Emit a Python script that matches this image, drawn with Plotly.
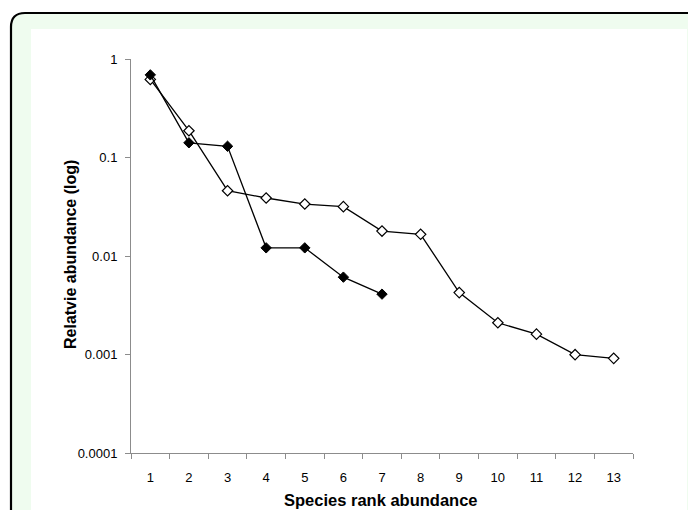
import plotly.graph_objects as go

ranks = list(range(1, 14))
tick_labels = [str(r) for r in ranks]
series_filled = [0.69, 0.141, 0.13, 0.0121, 0.0121, 0.0061, 0.0041]
series_open = [0.62, 0.187, 0.046, 0.0388, 0.0337, 0.0317, 0.0179, 0.0166,
               0.00425, 0.0021, 0.00161, 0.000996, 0.000914]
y_ticks = [0.0001, 0.001, 0.01, 0.1, 1]
y_tick_labels = ["0.0001", "0.001", "0.01", "0.1", "1"]

W, H = 696, 510
OFF = 8  # default page body margin
L, R, T, B = 131 - OFF, 633 - OFF, 59 - OFF, 453 - OFF


def px(x):
    return (x - OFF - L) / (R - L)


def py(y):
    return (B - (y - OFF)) / (B - T)


fig = go.Figure()
fig.add_trace(go.Scatter(
    x=ranks[:len(series_open)], y=series_open, mode="lines+markers",
    line=dict(color="black", width=1.3),
    marker=dict(symbol="diamond", size=8, color="white",
                line=dict(color="black", width=1.2)),
    showlegend=False, cliponaxis=False))
fig.add_trace(go.Scatter(
    x=ranks[:len(series_filled)], y=series_filled, mode="lines+markers",
    line=dict(color="black", width=1.3),
    marker=dict(symbol="diamond", size=8, color="black",
                line=dict(color="black", width=1)),
    showlegend=False, cliponaxis=False))

# frame: rounded green panel with black border, white inner panel
x0, y0, x1, y1, r = 11, 13, 701, 540, 14
path = (f"M {px(x0)},{py(y0 + r)} "
        f"Q {px(x0)},{py(y0)} {px(x0 + r)},{py(y0)} "
        f"L {px(x1 - r)},{py(y0)} "
        f"Q {px(x1)},{py(y0)} {px(x1)},{py(y0 + r)} "
        f"L {px(x1)},{py(y1)} L {px(x0)},{py(y1)} Z")
shapes = [
    dict(type="path", path=path, xref="paper", yref="paper",
         fillcolor="#effcef", line=dict(color="black", width=2.2), layer="below"),
    dict(type="rect", xref="paper", yref="paper",
         x0=px(31), x1=px(687), y0=py(29), y1=py(540),
         fillcolor="white", line=dict(width=0), layer="below"),
]

fig.update_layout(
    width=W, height=H,
    margin=dict(l=L, r=W - R, t=T, b=H - B, pad=0),
    paper_bgcolor="white", plot_bgcolor="rgba(0,0,0,0)",
    font=dict(family="Liberation Sans, Arial, sans-serif", color="black", size=12),
    shapes=shapes,
    xaxis=dict(
        range=[0.5, 13.5], tickmode="array", tickvals=ranks, ticktext=tick_labels,
        ticks="", showgrid=False, zeroline=False,
        showline=True, linecolor="#8c8c8c", linewidth=1,
        tickfont=dict(size=13, color="black"), ticklabelstandoff=12,
        minor=dict(tickmode="array", tickvals=[i + 0.5 for i in range(0, 14)],
                   ticks="outside", ticklen=5, tickcolor="#8c8c8c", tickwidth=1,
                   showgrid=False),
    ),
    yaxis=dict(
        type="log", range=[-4, 0], tickmode="array", tickvals=y_ticks,
        ticktext=y_tick_labels, ticks="outside", ticklen=5, tickcolor="#8c8c8c",
        showgrid=False, zeroline=False, showline=True, linecolor="#8c8c8c",
        linewidth=1, tickfont=dict(size=13, color="black"), ticklabelstandoff=5,
    ),
    annotations=[
        dict(text="<b>Species rank abundance</b>", xref="paper", yref="paper",
             x=px(381), y=py(500), showarrow=False, font=dict(size=16.5),
             xanchor="center", yanchor="middle"),
        dict(text="<b>Relatvie abundance (log)</b>", xref="paper", yref="paper",
             x=px(70), y=py(255), showarrow=False, font=dict(size=16),
             textangle=-90, xanchor="center", yanchor="middle"),
    ],
)

fig.write_html("out.html")
